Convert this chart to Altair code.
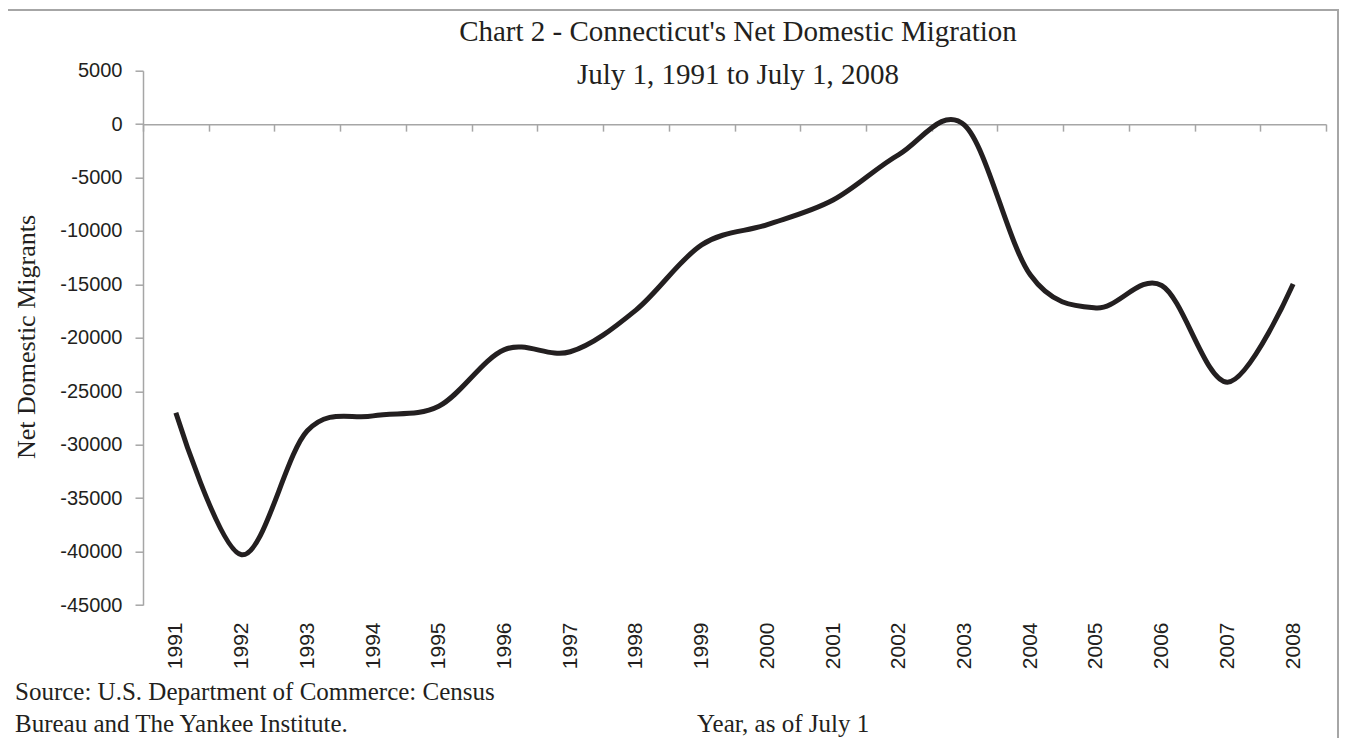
import altair as alt
import pandas as pd

# ---- data ----
years = [str(y) for y in range(1991, 2009)]
migrants = [-27000, -40300, -28700, -27300, -26400, -21100, -21300, -17400, -11300,
            -9400, -7100, -2850, -100, -14100, -17200, -15100, -24150, -14970]
y_ticks = list(range(-45000, 5001, 5000))

title_lines = ["Chart 2 - Connecticut's Net Domestic Migration", "July 1, 1991 to July 1, 2008"]
y_title = "Net Domestic Migrants"
x_title = "Year, as of July 1"
source_lines = ["Source: U.S. Department of Commerce: Census", "Bureau and The Yankee Institute."]

df = pd.DataFrame({"year": years, "value": migrants})

# ---- layout ----
W, H = 1183, 534.3
PAD_L, PAD_T = 135, 62.7
AX0 = H * 5000 / 50000          # y pixel of the 0 line inside the plot
GRAY = "#a6a6a6"
INK = "#231f20"
SANS = "Liberation Sans, sans-serif"
SERIF = "Liberation Serif, serif"

line = alt.Chart(df).mark_line(
    color=INK, strokeWidth=5, interpolate="cardinal", tension=0, strokeJoin="round"
).encode(
    x=alt.X("year:N", sort=years, bandPosition=0.5,
            scale=alt.Scale(type="band", paddingInner=0, paddingOuter=0),
            axis=alt.Axis(orient="bottom", offset=-(H - AX0), title=None, grid=False,
                          domain=True, domainColor=GRAY, domainWidth=1.5,
                          ticks=True, tickBand="extent", tickSize=7, tickColor=GRAY, tickWidth=1.5,
                          labelAngle=-90, labelAlign="right", labelBaseline="middle",
                          labelPadding=622 - (70.7 + AX0) - 7,
                          labelFont=SANS, labelFontSize=21, labelColor=INK)),
    y=alt.Y("value:Q",
            scale=alt.Scale(domain=[-45000, 5000], nice=False, zero=False),
            axis=alt.Axis(values=y_ticks, labelExpr="'' + datum.value", title=None, grid=False,
                          domainColor=GRAY, domainWidth=1.5, tickColor=GRAY, tickWidth=1.5,
                          tickSize=8, labelPadding=13,
                          labelFont=SANS, labelFontSize=20, labelColor=INK)),
)


def label(text, x, y, size, align="left", angle=0, font=SERIF):
    return alt.Chart(alt.Data(values=[{"t": text}])).mark_text(
        font=font, fontSize=size, color=INK, align=align, baseline="alphabetic", angle=angle
    ).encode(x=alt.value(x), y=alt.value(y), text="t:N")


def ax(px):
    return px - 143


def ay(py):
    return py - 70.7


border = alt.Chart(alt.Data(values=[{"a": 1}])).mark_rect(
    filled=False, stroke=GRAY, strokeWidth=2
).encode(x=alt.value(ax(5)), x2=alt.value(ax(1338)), y=alt.value(ay(10)), y2=alt.value(ay(760)))

texts = [
    label(title_lines[0], ax(738), ay(41), 29, align="center"),
    label(title_lines[1], ax(738), ay(84), 29, align="center"),
    label(source_lines[0], ax(15), ay(700), 25),
    label(source_lines[1], ax(15), ay(732), 25),
    label(x_title, ax(697), ay(732), 25),
    alt.Chart(alt.Data(values=[{"t": y_title}])).mark_text(
        font=SERIF, fontSize=26, color=INK, align="center", baseline="middle", angle=270
    ).encode(x=alt.value(ax(27)), y=alt.value(ay(337)), text="t:N"),
]

chart = alt.layer(border, line, *texts).properties(
    width=W, height=H,
    padding={"left": PAD_L, "top": PAD_T, "right": 13, "bottom": 133},
    autosize=alt.AutoSizeParams(type="none"),
    background="white",
).configure_view(stroke=None)

chart.save("out.html", embed_options={"renderer": "svg", "actions": False})
